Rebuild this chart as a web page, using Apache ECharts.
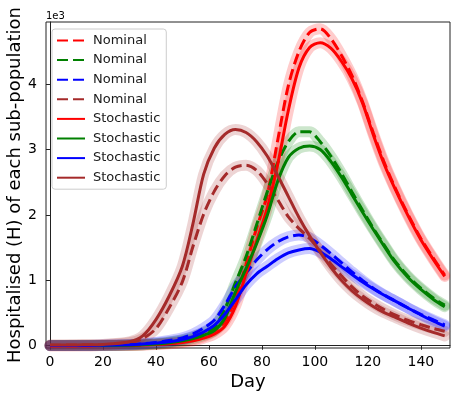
<!DOCTYPE html>
<html>
<head>
<meta charset="utf-8">
<script src="https://cdn.jsdelivr.net/npm/echarts@6/dist/echarts.min.js"></script>
<style>
  html, body { margin: 0; padding: 0; background: #fff; }
  #main { width: 456px; height: 398px; }
</style>
</head>
<body>
<div id="main"></div>
<script>
const days = [0, 10, 20, 30, 35, 40, 45, 50, 54, 58, 62, 66, 70, 74, 78, 82, 86, 90, 94, 98, 102, 106, 110, 114, 118, 122, 126, 130, 135, 140, 145, 149]

// nominal (dashed)
const nomRed = [1, 1, 2, 6, 12, 22, 38, 60, 90, 140, 220, 370, 720, 1240, 1800, 2300, 3150, 3980, 4500, 4790, 4845, 4700, 4440, 4130, 3730, 3260, 2820, 2440, 2020, 1640, 1320, 1080]
const nomGreen = [2, 2, 3, 9, 16, 30, 55, 90, 135, 200, 280, 560, 960, 1360, 1850, 2350, 2800, 3120, 3270, 3270, 3120, 2900, 2640, 2350, 2070, 1800, 1550, 1310, 1070, 880, 720, 620]
const nomBlue = [3, 4, 6, 17, 30, 50, 80, 120, 180, 270, 390, 620, 900, 1110, 1310, 1470, 1590, 1665, 1693, 1650, 1540, 1410, 1270, 1130, 1000, 880, 780, 690, 580, 480, 390, 320]
const nomBrown = [8, 10, 15, 45, 110, 260, 580, 980, 1520, 2010, 2360, 2600, 2730, 2760, 2680, 2480, 2230, 1970, 1790, 1640, 1450, 1250, 1070, 900, 760, 650, 555, 475, 390, 320, 260, 220]

// stochastic (solid)
const stoRed = [1, 1, 2, 5, 10, 18, 30, 50, 75, 115, 175, 300, 600, 1100, 1600, 2100, 2780, 3600, 4250, 4560, 4633, 4550, 4350, 4080, 3710, 3230, 2790, 2420, 2000, 1620, 1300, 1060]
const stoGreen = [2, 2, 3, 8, 14, 25, 45, 75, 110, 160, 230, 420, 820, 1180, 1560, 1990, 2520, 2880, 3020, 3054, 3000, 2820, 2580, 2310, 2040, 1780, 1530, 1290, 1050, 860, 700, 596]
const stoBlue = [3, 4, 6, 15, 25, 40, 60, 95, 140, 210, 310, 480, 700, 930, 1100, 1215, 1330, 1420, 1465, 1485, 1430, 1330, 1210, 1090, 975, 870, 775, 690, 580, 470, 370, 300]
const stoBrown = [10, 12, 20, 60, 150, 400, 760, 1220, 1870, 2620, 3020, 3230, 3305, 3260, 3120, 2900, 2600, 2280, 1960, 1680, 1430, 1200, 1000, 840, 710, 600, 510, 440, 350, 270, 200, 150]

const xTicks = [0, 20, 40, 60, 80, 100, 120, 140]
const yTicks = [0, 1000, 2000, 3000, 4000]

const font = 'DejaVu Sans'
const lines = [
    { name: 'Nominal 1', color: '#ff0000', vals: nomRed, dash: true },
    { name: 'Nominal 2', color: '#008000', vals: nomGreen, dash: true },
    { name: 'Nominal 3', color: '#0000ff', vals: nomBlue, dash: true },
    { name: 'Nominal 4', color: '#a52a2a', vals: nomBrown, dash: true },
    { name: 'Stochastic 1', color: '#ff0000', vals: stoRed, dash: false },
    { name: 'Stochastic 2', color: '#008000', vals: stoGreen, dash: false },
    { name: 'Stochastic 3', color: '#0000ff', vals: stoBlue, dash: false },
    { name: 'Stochastic 4', color: '#a52a2a', vals: stoBrown, dash: false },
]

function pts(vals) {
    return days.map((d, i) => [d, vals[i]])
}

let series = []
// light band round every curve
lines.forEach(l => {
    series.push({
        name: l.name + ' band',
        type: 'line',
        data: pts(l.vals),
        smooth: 0.3,
        showSymbol: false,
        silent: true,
        z: 1,
        lineStyle: { color: l.color, width: 11, opacity: 0.2, cap: 'round', join: 'round' }
    })
})
lines.forEach(l => {
    series.push({
        name: l.name,
        type: 'line',
        data: pts(l.vals),
        smooth: 0.3,
        symbol: 'none',
        z: l.dash ? 2 : 3,
        itemStyle: { color: l.color },
        lineStyle: { color: l.color, width: 3, type: l.dash ? [11, 5] : 'solid' }
    })
})

var myChart = echarts.init(document.getElementById('main'))
var option = {
    animation: false,
    grid: { left: 46, right: 6, top: 22, bottom: 50, outerBoundsMode: 'none', show: true, borderColor: '#222', borderWidth: 1 },
    legend: {
        data: lines.map(l => l.name),
        orient: 'vertical',
        left: 52,
        top: 29,
        padding: [5, 6, 5, 4],
        itemWidth: 28,
        itemHeight: 14,
        itemGap: 6.6,
        borderColor: '#ccc',
        borderWidth: 1,
        borderRadius: 3,
        backgroundColor: 'rgba(255,255,255,0.8)',
        itemStyle: { opacity: 0 },
        formatter: name => name.split(' ')[0],
        textStyle: { fontFamily: font, fontSize: 13, color: '#1a1a1a', padding: [0, 0, 0, 3] }
    },
    xAxis: {
        type: 'value',
        min: -1.5,
        max: 151,
        name: 'Day',
        nameLocation: 'middle',
        nameGap: 25,
        nameMoveOverlap: false,
        nameTextStyle: { fontFamily: font, fontSize: 18, color: '#000' },
        axisLine: { lineStyle: { color: '#222' } },
        axisTick: { length: 4, customValues: xTicks, lineStyle: { color: '#222' } },
        axisLabel: { customValues: xTicks, fontFamily: font, fontSize: 14, color: '#000', margin: 7 },
        splitLine: { show: false }
    },
    yAxis: {
        type: 'value',
        min: -35,
        max: 4950,
        name: 'Hospitalised (H) of each sub-population',
        nameLocation: 'middle',
        nameGap: 22,
        nameMoveOverlap: false,
        nameTextStyle: { fontFamily: font, fontSize: 18, color: '#000' },
        axisLine: { show: true, lineStyle: { color: '#222' } },
        axisTick: { show: true, length: 4, customValues: yTicks, lineStyle: { color: '#222' } },
        axisLabel: { customValues: yTicks, formatter: v => v / 1000, fontFamily: font, fontSize: 14, color: '#000', margin: 9 },
        splitLine: { show: false }
    },
    graphic: [{
        type: 'text',
        left: 46,
        top: 11,
        style: { text: '1e3', fontFamily: font, fontSize: 10, fill: '#000' }
    }],
    series
}
myChart.setOption(option)
</script>
</body>
</html>
